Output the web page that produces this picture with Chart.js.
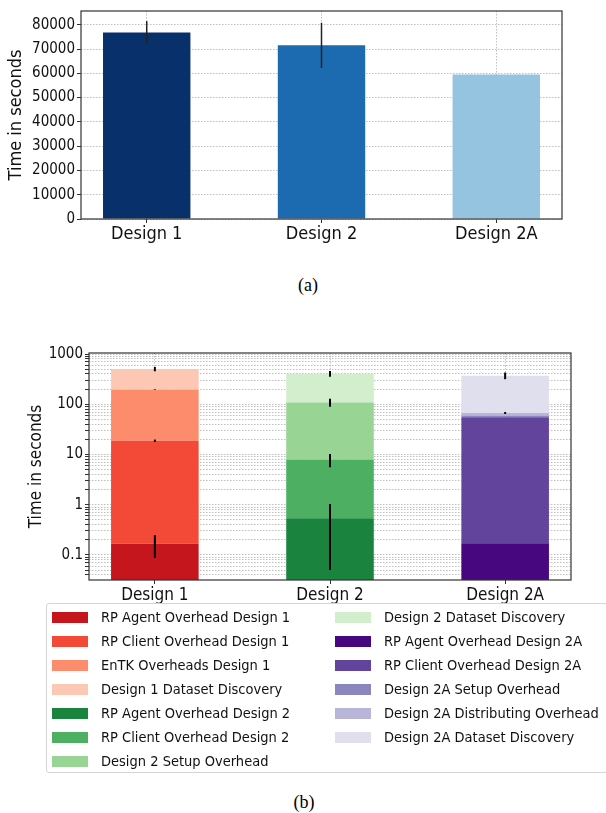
<!DOCTYPE html>
<html>
<head>
<meta charset="utf-8">
<script src="https://cdn.jsdelivr.net/npm/chart.js@4.4.1/dist/chart.umd.min.js"></script>
<style>
  html, body { margin:0; padding:0; background:#fff; width:606px; height:813px; overflow:hidden; position:relative; }
  .wrap { position:absolute; left:0; width:606px; }
  #wrapA { top:0; height:255px; }
  #wrapB { top:340px; height:265px; }
  .cap { position:absolute; font-family:'Liberation Serif', 'Times New Roman', serif; font-size:18px; color:#000; transform:translateX(-50%); line-height:1; }
  #legend { position:absolute; left:46px; top:603px; width:630px; height:170px; box-sizing:border-box;
            border:1px solid #d4d4d4; border-radius:3px; display:grid; grid-auto-flow:column;
            grid-template-rows:repeat(7, 24px); grid-template-columns:283px 300px; padding-top:1px;
            font-family:'DejaVu Sans Condensed', 'DejaVu Sans', sans-serif; font-size:14.5px; color:#111; }
  .item { display:flex; align-items:center; white-space:nowrap; }
  .sw { width:36px; height:11px; margin-left:5px; margin-right:13px; flex:none; }
</style>
</head>
<body>
<div class="wrap" id="wrapA"><canvas id="chartA"></canvas></div>
<div class="cap" style="left:308px; top:276px;">(a)</div>
<div class="wrap" id="wrapB"><canvas id="chartB"></canvas></div>
<div id="legend"></div>
<div class="cap" style="left:304px; top:793px;">(b)</div>
<script>
// ---- data ----
const categories = ['Design 1', 'Design 2', 'Design 2A'];

// (a) total time to completion
const totalTime = [76770, 71520, 59520];
const totalErr = [4730, 9290, 0];
const totalColors = ['#08306b', '#1c6aaf', '#94c4df'];
const yTicksA = [0, 10000, 20000, 30000, 40000, 50000, 60000, 70000, 80000];

// (b) overhead breakdown, stacked per design
const d1Labels = ['RP Agent Overhead Design 1', 'RP Client Overhead Design 1', 'EnTK Overheads Design 1', 'Design 1 Dataset Discovery'];
const d1Values = [0.167, 18.6, 176, 308];
const d1Errors = [0.08, 1, 3, 50];
const d1Colors = ['#c4161c', '#f24a36', '#fc8c6c', '#fdc8b3'];

const d2Labels = ['RP Agent Overhead Design 2', 'RP Client Overhead Design 2', 'Design 2 Setup Overhead', 'Design 2 Dataset Discovery'];
const d2Values = [0.54, 7.34, 101, 297];
const d2Errors = [0.49, 2.3, 20, 53];
const d2Colors = ['#1a843f', '#4daf62', '#98d594', '#d3eecd'];

const d2aLabels = ['RP Agent Overhead Design 2A', 'RP Client Overhead Design 2A', 'Design 2A Setup Overhead', 'Design 2A Distributing Overhead', 'Design 2A Dataset Discovery'];
const d2aValues = [0.17, 54.6, 4.5, 7.8, 304];
const d2aErrors = [0, 0, 0, 3, 56];
const d2aColors = ['#46077f', '#63449c', '#8a87bf', '#b7b6d8', '#e0dfee'];

const yTickValues = [0.1, 1, 10, 100, 1000];
const yTickLabels = ['0.1', '1', '10', '100', '1000'];

// ---- styling helpers ----
const FONT = "'DejaVu Sans Condensed', 'DejaVu Sans', sans-serif";
const gridStyle = { color: 'rgba(170,170,170,0.75)', lineWidth: 1, tickLength: 4, tickColor: '#333', tickWidth: 1, offset: false };
const borderStyle = { display: false, dash: [1.5, 1.5] };

const framePlugin = {
  id: 'frame',
  afterDraw(chart) {
    const { ctx, chartArea: a } = chart;
    ctx.save();
    ctx.strokeStyle = '#333';
    ctx.lineWidth = 1.2;
    ctx.strokeRect(a.left, a.top, a.right - a.left, a.bottom - a.top);
    ctx.restore();
  }
};

function drawErr(chart, x, y, e) {
  if (!e) return;
  const ys = chart.scales.y, a = chart.chartArea;
  const ctx = chart.ctx;
  const p1 = Math.max(a.top, ys.getPixelForValue(y + e));
  const p2 = Math.min(a.bottom, ys.getPixelForValue(Math.max(y - e, ys.min)));
  ctx.beginPath();
  ctx.moveTo(x, p1);
  ctx.lineTo(x, p2);
  ctx.stroke();
}

const xScaleBase = {
  type: 'linear', min: -0.376, max: 2.376, z: 1, offset: false,
  afterBuildTicks: s => { s.ticks = categories.map((c, i) => ({ value: i })); },
  ticks: { callback: v => categories[v], color: '#111', padding: 1, autoSkip: false, maxRotation: 0 },
  grid: gridStyle, border: borderStyle
};

// ---- chart (a) ----
new Chart(document.getElementById('chartA'), {
  type: 'bar',
  data: {
    datasets: [{
      data: categories.map((c, i) => ({ x: i, y: totalTime[i] })),
      backgroundColor: totalColors,
      categoryPercentage: 0.5, barPercentage: 1.0
    }]
  },
  options: {
    responsive: true, maintainAspectRatio: false, animation: false,
    layout: { padding: { top: 7, right: 44, left: 0, bottom: 0 } },
    plugins: { legend: { display: false }, tooltip: { enabled: false } },
    scales: {
      x: Object.assign({}, xScaleBase, {
        afterFit: s => { s.height = 36; },
        ticks: Object.assign({}, xScaleBase.ticks, { font: { family: FONT, size: 18 } })
      }),
      y: {
        min: 0, max: 85650, z: 1,
        afterFit: s => { s.width = 81; },
        afterBuildTicks: s => { s.ticks = yTicksA.map(v => ({ value: v })); },
        ticks: { autoSkip: false, color: '#111', padding: 2, font: { family: FONT, size: 15 }, callback: v => String(v) },
        grid: gridStyle, border: borderStyle,
        title: { display: true, text: 'Time in seconds', color: '#111', font: { family: FONT, size: 18 }, padding: { top: 6, bottom: 0 } }
      }
    }
  },
  plugins: [framePlugin, {
    id: 'errA',
    afterDraw(chart) {
      const ctx = chart.ctx;
      ctx.save();
      ctx.strokeStyle = '#222';
      ctx.lineWidth = 1.5;
      categories.forEach((c, i) => drawErr(chart, chart.scales.x.getPixelForValue(i), totalTime[i], totalErr[i]));
      ctx.restore();
    }
  }]
});

// ---- chart (b) ----
const groups = [
  { labels: d1Labels, values: d1Values, errors: d1Errors, colors: d1Colors },
  { labels: d2Labels, values: d2Values, errors: d2Errors, colors: d2Colors },
  { labels: d2aLabels, values: d2aValues, errors: d2aErrors, colors: d2aColors }
];
const stackedSets = [];
groups.forEach((g, i) => {
  g.labels.forEach((lab, j) => {
    stackedSets.push({
      label: lab,
      data: [{ x: i, y: g.values[j] }],
      backgroundColor: g.colors[j],
      categoryPercentage: 0.5, barPercentage: 1.0
    });
  });
});

const chartB = new Chart(document.getElementById('chartB'), {
  type: 'bar',
  data: { datasets: stackedSets },
  options: {
    responsive: true, maintainAspectRatio: false, animation: false,
    layout: { padding: { top: 13, right: 35, left: 0, bottom: 0 } },
    plugins: { legend: { display: false }, tooltip: { enabled: false } },
    scales: {
      x: Object.assign({}, xScaleBase, {
        stacked: true,
        afterFit: s => { s.height = 25; },
        ticks: Object.assign({}, xScaleBase.ticks, { font: { family: FONT, size: 17 } })
      }),
      y: {
        type: 'logarithmic', stacked: true, min: 0.0317, max: 1047, z: 1,
        afterFit: s => { s.width = 89; },
        afterBuildTicks: s => {
          const t = [];
          for (let e = -2; e <= 3; e++) {
            for (let m = 1; m <= 9; m++) {
              const v = m * Math.pow(10, e);
              if (v >= s.min && v <= s.max) t.push({ value: v });
            }
          }
          s.ticks = t;
        },
        ticks: {
          autoSkip: false, color: '#111', padding: 2, font: { family: FONT, size: 15 },
          callback: v => {
            const k = yTickValues.findIndex(t => Math.abs(t - v) / t < 1e-6);
            return k >= 0 ? yTickLabels[k] : '';
          }
        },
        grid: gridStyle, border: borderStyle,
        title: { display: true, text: 'Time in seconds', color: '#111', font: { family: FONT, size: 17 }, padding: { top: 26, bottom: 0 } }
      }
    }
  },
  plugins: [framePlugin, {
    id: 'errB',
    afterDraw(chart) {
      const ctx = chart.ctx;
      ctx.save();
      ctx.strokeStyle = '#000';
      ctx.lineWidth = 2;
      groups.forEach((g, i) => {
        let cum = 0;
        g.values.forEach((v, j) => {
          cum += v;
          drawErr(chart, chart.scales.x.getPixelForValue(i), cum, g.errors[j]);
        });
      });
      ctx.restore();
    }
  }]
});

// ---- legend for (b), two columns filled top-down ----
const legendEl = document.getElementById('legend');
chartB.data.datasets.forEach(ds => {
  const item = document.createElement('div');
  item.className = 'item';
  const sw = document.createElement('span');
  sw.className = 'sw';
  sw.style.background = ds.backgroundColor;
  const txt = document.createElement('span');
  txt.textContent = ds.label;
  item.appendChild(sw);
  item.appendChild(txt);
  legendEl.appendChild(item);
});
</script>
</body>
</html>
